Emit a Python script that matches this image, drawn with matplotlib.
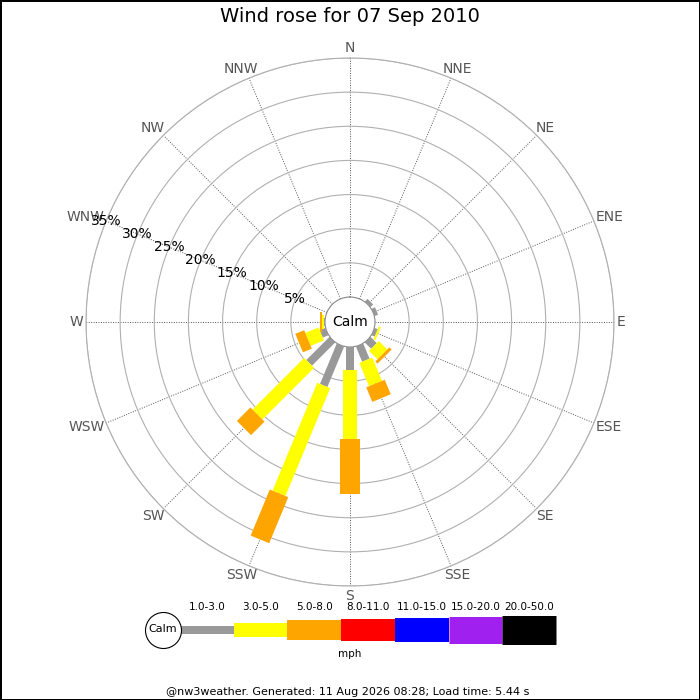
import numpy as np
import matplotlib
matplotlib.use("Agg")
import matplotlib.pyplot as plt

# wind rose data, % of time per direction and speed class
directions = ['N', 'NNE', 'NE', 'ENE', 'E', 'ESE', 'SE', 'SSE',
              'S', 'SSW', 'SW', 'WSW', 'W', 'WNW', 'NW', 'NNW']
speed_bins = ['1.0-3.0', '3.0-5.0', '5.0-8.0', '8.0-11.0',
              '11.0-15.0', '15.0-20.0', '20.0-50.0']
bin_colors = ['#999999', '#ffff00', '#ffa500', '#ff0000',
              '#0000ff', '#a020f0', '#000000']
bin_widths_px = [8, 14, 20, 22, 24, 27, 29]

pct_1_3 = [0, 0, 0.55, 0.55, 0, 0.5, 1.3, 2.4, 3.4, 6.4, 4.8, 0.9, 0.15, 0, 0, 0]
pct_3_5 = [0, 0, 0, 0, 0, 0.3, 1.75, 3.7, 10.0, 17.1, 10.7, 2.1, 0.3, 0, 0, 0]
pct_5_8 = [0, 0, 0, 0, 0, 0, 0.45, 2.3, 8.2, 7.3, 2.8, 1.4, 0.3, 0, 0, 0]
pct_8_11 = [0] * 16
pct_11_15 = [0] * 16
pct_15_20 = [0] * 16
pct_20_50 = [0] * 16
series = [pct_1_3, pct_3_5, pct_5_8, pct_8_11, pct_11_15, pct_15_20, pct_20_50]

ring_pcts = [5, 10, 15, 20, 25, 30, 35]
title = "Wind rose for 07 Sep 2010"
footer = "@nw3weather. Generated: 11 Aug 2026 08:28; Load time: 5.44 s"

PT = 72 / 100  # points per pixel at dpi 100


def main():
    fig = plt.figure(figsize=(7, 7), dpi=100)
    fig.patch.set_edgecolor('black')
    fig.patch.set_linewidth(2)

    # polar axes: centre (350, 322) px, outer radius 264 px
    ax = fig.add_axes([86 / 700, 114 / 700, 528 / 700, 528 / 700],
                      projection='polar')
    ax.set_theta_zero_location('N')
    ax.set_theta_direction(-1)
    rmax = ring_pcts[-1]
    r0 = rmax * 25 / (264 - 25)
    ax.set_ylim(0, rmax)
    ax.set_rorigin(-r0)

    thetas = np.deg2rad(np.arange(16) * 22.5)
    ax.set_xticks(thetas)
    ax.set_xticklabels([])
    ax.set_yticks(ring_pcts)
    ax.set_yticklabels([])
    ax.xaxis.grid(True, color='#555555', linestyle=(0, (1, 1.5)), linewidth=0.7)
    ax.yaxis.grid(True, color='#b0b0b0', linestyle='-', linewidth=0.8)
    ax.tick_params(length=0)
    for name, sp in ax.spines.items():
        sp.set_color('#b0b0b0')
        sp.set_linewidth(0.8)
    ax.spines['inner'].set_color('#888888')

    # stacked bars
    for i, th in enumerate(thetas):
        start = 0
        for k, vals in enumerate(series):
            v = vals[i]
            if v <= 0:
                continue
            ax.plot([th, th], [start, start + v], color=bin_colors[k],
                    linewidth=bin_widths_px[k] * PT, solid_capstyle='butt',
                    zorder=3 + k)
            start += v

    ax.text(0.5, 0.5, 'Calm', transform=ax.transAxes, ha='center',
            va='center', fontsize=10, zorder=20)

    # ring labels along WNW
    th_lab = np.deg2rad(292.5)
    for p in ring_pcts:
        ax.text(th_lab, p, f'{p}%', ha='center', va='center', fontsize=10,
                color='black', zorder=20)

    # direction labels, anchored just outside the outer ring
    r_anchor = (267 / 264) * (rmax + r0) - r0
    dir_texts = []
    for lbl, th in zip(directions, thetas):
        t = ax.annotate(lbl, xy=(th, r_anchor), xytext=(0, 0),
                        textcoords='offset pixels', ha='center', va='center',
                        fontsize=10, color='#555555', annotation_clip=False)
        dir_texts.append((t, th))

    fig.text(0.5, 1 - 17 / 700, title, ha='center', va='center', fontsize=14)

    # legend strip
    lax = fig.add_axes([140 / 700, 35 / 700, 420 / 700, 70 / 700])
    seg_px = 376 / len(speed_bins)
    lax.set_xlim(-40 / seg_px, 380 / seg_px)
    lax.set_ylim(-35.5, 34.5)
    lax.axis('off')
    for k, lbl in enumerate(speed_bins):
        lax.plot([k, k + 1], [0, 0], color=bin_colors[k],
                 linewidth=bin_widths_px[k] * PT, solid_capstyle='butt')
        lax.text(k + 0.5, 22.5, lbl, ha='center', va='center', fontsize=7.5)
    lax.plot([-17 / seg_px], [0], marker='o', markersize=36 * PT,
             markerfacecolor='white', markeredgecolor='black',
             markeredgewidth=0.8, zorder=5)
    lax.text(-17 / seg_px, 0, 'Calm', ha='center', va='center', fontsize=8,
             zorder=6)
    fig.text(0.5, 1 - 654 / 700, 'mph', ha='center', va='center', fontsize=7.5)

    fig.text(0.497, 1 - 692 / 700, footer, ha='center', va='center', fontsize=8)

    # shift direction labels so they sit outside the circle
    fig.canvas.draw()
    renderer = fig.canvas.get_renderer()
    for t, th in dir_texts:
        bb = t.get_window_extent(renderer)
        dx = 0.5 * bb.width * np.sin(th)
        dy = 0.5 * bb.height * np.cos(th)
        t.xyann = (dx, dy)

    fig.savefig('out.png', dpi=100, edgecolor=fig.get_edgecolor())


if __name__ == '__main__':
    main()
